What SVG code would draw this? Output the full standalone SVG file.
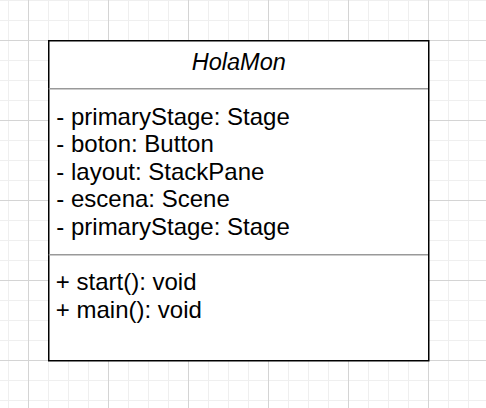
<svg xmlns="http://www.w3.org/2000/svg" width="486" height="408" viewBox="0 0 486 408">
  <defs>
    <pattern id="gridMinor" patternUnits="userSpaceOnUse" x="8" y="0" width="20" height="20">
      <path d="M0.5 0V20M0 0.5H20" fill="none" stroke="#efefef" stroke-width="1"/>
    </pattern>
    <pattern id="gridMajor" patternUnits="userSpaceOnUse" x="28" y="40" width="80" height="80">
      <path d="M0.5 0V80M0 0.5H80" fill="none" stroke="#d4d4d4" stroke-width="1"/>
    </pattern>
  </defs>
  <style>
    .box { fill: #ffffff; stroke: #000000; stroke-width: 1.5; }
    .sep { stroke: #999999; stroke-width: 1.5; }
    .txt { font-family: "Liberation Sans", Arial, Helvetica, sans-serif; font-size: 24px; fill: #000000; }
    .title { font-style: italic; text-anchor: middle; font-size: 23.5px; }
  </style>
  <rect x="0" y="0" width="486" height="408" fill="#ffffff"/>
  <rect x="0" y="0" width="486" height="408" fill="url(#gridMinor)"/>
  <rect x="0" y="0" width="486" height="408" fill="url(#gridMajor)"/>
  <g id="connectors"/>
  <g id="HolaMon">
    <rect class="box" x="48.75" y="40.75" width="380" height="320"/>
    <text class="txt title" x="238.75" y="70">HolaMon</text>
    <line class="sep" x1="48.75" y1="88.75" x2="428" y2="88.75"/>
    <text class="txt" x="56.3" y="124.5">- primaryStage: Stage</text>
    <text class="txt" x="56.3" y="152.1">- boton: Button</text>
    <text class="txt" x="56.3" y="179.7">- layout: StackPane</text>
    <text class="txt" x="56.3" y="207.3">- escena: Scene</text>
    <text class="txt" x="56.3" y="234.9">- primaryStage: Stage</text>
    <line class="sep" x1="48.75" y1="254.75" x2="428" y2="254.75"/>
    <text class="txt" x="55.8" y="290">+ start(): void</text>
    <text class="txt" x="55.8" y="317.6">+ main(): void</text>
  </g>
</svg>
